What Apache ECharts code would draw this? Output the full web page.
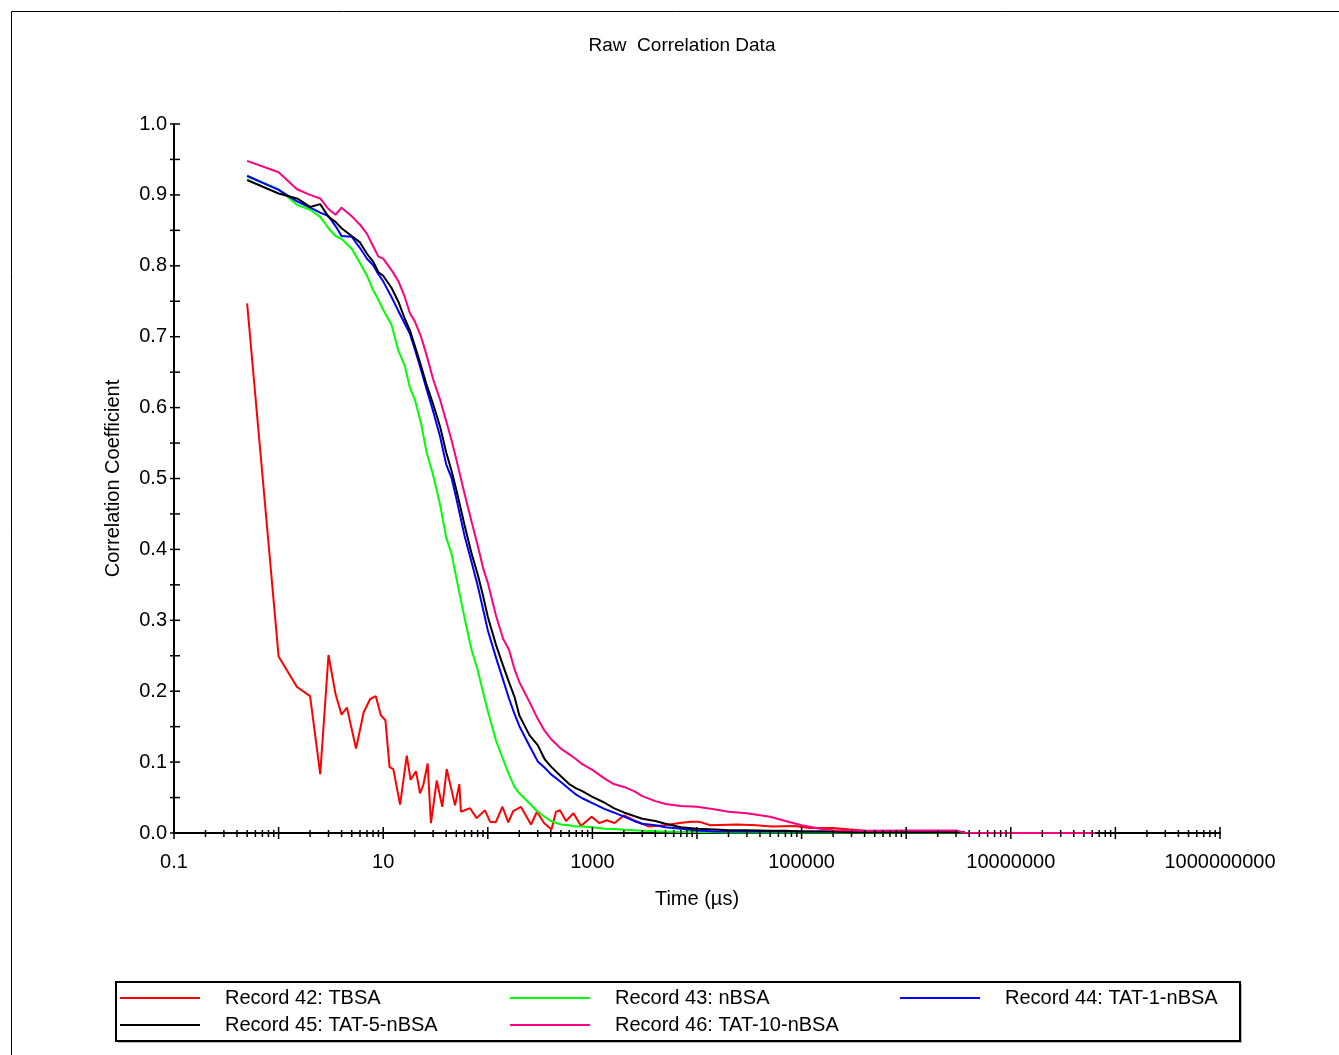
<!DOCTYPE html>
<html>
<head>
<meta charset="utf-8">
<title>Raw Correlation Data</title>
<script src="https://cdn.jsdelivr.net/npm/echarts@6/dist/echarts.min.js"></script>
<style>
html,body{margin:0;padding:0;background:#fff;}
#chart{width:1339px;height:1055px;}
</style>
</head>
<body>
<div id="chart"></div>
<script>
// Delay times (µs) shared by records 43-46
const timeUs = [0.5,1,1.5,2,2.5,3,3.5,4,5,6,
  7,8,9,10,12,14,16,18,20,23,
  26,30,35,40,45,50,60,70,80,90,
  100,120,140,160,180,200,250,300,350,400,
  500,600,700,800,1000,1300,1600,2000,2500,3000,
  4000,5000,7000,10000,15000,20000,30000,50000,70000,100000,
  150000,200000,300000,500000,1000000,2000000,3000000,3600000];

// Record 42: TBSA (own delay times)
const tbsaTime = [0.5,1.0,1.5,2.0,2.5,3.0,3.5,4.0,4.5,5.5,
  6.5,7.5,8.5,9.5,10.5,11.5,12.5,14.5,16.8,18.3,
  20.6,22.5,24.2,26.6,28.6,32.5,36.7,40.5,48.6,53.4,
  55.4,67.6,78.3,94,105,119,138,157,175,207,
  259,295,345,406,449,490,560,660,778,982,
  1160,1375,1630,2010,2480,3480,4870,6820,8790,10400,
  13400,24100,36800,51500,85300,119000,198000,358000,460000,3650000];
const tbsaValues = [0.747,0.249,0.206,0.193,0.083,0.251,0.196,0.167,0.177,0.119,
  0.170,0.189,0.193,0.166,0.159,0.093,0.090,0.040,0.109,0.075,
  0.087,0.056,0.068,0.098,0.014,0.074,0.037,0.090,0.039,0.069,
  0.030,0.035,0.021,0.032,0.016,0.015,0.037,0.015,0.031,0.037,
  0.012,0.030,0.014,0.005,0.030,0.032,0.017,0.028,0.010,0.023,
  0.014,0.018,0.014,0.025,0.018,0.009,0.011,0.014,0.016,0.016,
  0.011,0.012,0.011,0.009,0.010,0.007,0.007,0.004,0.002,0.001];

// Record 43: nBSA
const nbsaValues = [0.926,0.908,0.886,0.879,0.869,0.853,0.842,0.838,0.824,0.804,
  0.786,0.766,0.752,0.738,0.717,0.680,0.660,0.628,0.612,0.578,
  0.537,0.505,0.463,0.417,0.394,0.360,0.303,0.258,0.230,0.199,
  0.172,0.130,0.104,0.082,0.065,0.056,0.042,0.030,0.023,0.017,
  0.012,0.011,0.009,0.009,0.008,0.006,0.0055,0.0045,0.004,0.003,
  0.0025,0.002,0.0014,0.0013,0.001,0.0007,0.0007,0.0007,0.0007,0.0007,
  0.0007,0.0007,0.0007,0.0007,0.0007,0.0007,0.0007,0.0007];

// Record 44: TAT-1-nBSA
const tat1Values = [0.927,0.907,0.891,0.882,0.875,0.870,0.856,0.842,0.841,0.825,
  0.810,0.801,0.788,0.778,0.756,0.736,0.719,0.704,0.683,0.653,
  0.626,0.595,0.559,0.520,0.501,0.472,0.419,0.382,0.349,0.316,
  0.286,0.247,0.216,0.189,0.168,0.151,0.123,0.101,0.092,0.083,
  0.072,0.062,0.054,0.049,0.042,0.034,0.029,0.023,0.017,0.013,
  0.011,0.008,0.006,0.0035,0.002,0.002,0.002,0.002,0.002,0.002,
  0.002,0.002,0.002,0.002,0.002,0.002,0.002,0.001];

// Record 45: TAT-5-nBSA
const tat5Values = [0.921,0.902,0.895,0.883,0.887,0.869,0.862,0.853,0.842,0.833,
  0.817,0.806,0.791,0.786,0.769,0.749,0.726,0.709,0.688,0.659,
  0.632,0.605,0.573,0.537,0.511,0.484,0.434,0.394,0.365,0.335,
  0.305,0.265,0.236,0.212,0.192,0.166,0.138,0.124,0.104,0.094,
  0.080,0.069,0.063,0.059,0.051,0.043,0.035,0.029,0.024,0.020,
  0.017,0.013,0.008,0.006,0.005,0.004,0.004,0.003,0.003,0.002,
  0.002,0.002,0.001,0.001,0.001,0.001,0.001,0.001];

// Record 46: TAT-10-nBSA
const tat10Values = [0.948,0.932,0.908,0.900,0.895,0.880,0.872,0.882,0.870,0.858,
  0.845,0.828,0.813,0.810,0.794,0.778,0.757,0.733,0.722,0.700,
  0.674,0.640,0.611,0.581,0.554,0.527,0.478,0.439,0.406,0.374,
  0.353,0.306,0.274,0.258,0.231,0.213,0.185,0.161,0.144,0.133,
  0.119,0.111,0.104,0.097,0.089,0.077,0.069,0.065,0.059,0.052,
  0.045,0.041,0.038,0.037,0.033,0.030,0.028,0.023,0.017,0.011,
  0.006,0.004,0.0035,0.003,0.0035,0.0035,0.0035,0.0005];
const tat10TailTime = [10000000, 64000000];
const tat10TailValues = [0, 0];

const seriesNames = ['Record 42: TBSA','Record 43: nBSA','Record 44: TAT-1-nBSA',
  'Record 45: TAT-5-nBSA','Record 46: TAT-10-nBSA'];
const seriesColors = ['#ff0000','#00ff00','#0000ff','#000000','#ff0080'];

const xTickExponents = [-1,1,3,5,7,9];
const xTickLabels = ['0.1','10','1000','100000','10000000','1000000000'];

const FONT = '"Liberation Sans", Arial, sans-serif';

function pairs(ts, vs) { return ts.map((t, i) => [Math.log10(t), vs[i]]); }

const seriesData = [
  pairs(tbsaTime, tbsaValues),
  pairs(timeUs, nbsaValues),
  pairs(timeUs, tat1Values),
  pairs(timeUs, tat5Values),
  pairs(timeUs, tat10Values).concat(pairs(tat10TailTime, tat10TailValues))
];

// tick positions (log decades with 2..9 subdivisions)
const xTicks = [];
for (let d = -1; d <= 9; d++) {
  xTicks.push([d, 1]);
  if (d < 9) for (let k = 2; k <= 9; k++) xTicks.push([d + Math.log10(k), 0]);
}
const yTicks = [];
for (let i = 0; i <= 20; i++) yTicks.push([-1, i * 0.05]);

const chart = echarts.init(document.getElementById('chart'), null, {renderer: 'canvas'});

const lineSeries = seriesNames.map((name, i) => ({
  name: name,
  type: 'line',
  data: seriesData[i],
  color: seriesColors[i],
  showSymbol: false,
  symbol: 'none',
  lineStyle: {width: 2, color: seriesColors[i]},
  emphasis: {disabled: true},
  z: 3 + i
}));

const legendCommon = {
  orient: 'vertical',
  top: 988,
  padding: 0,
  itemWidth: 80,
  itemHeight: 2,
  itemGap: 7,
  icon: 'rect',
  selectedMode: false,
  textStyle: {fontSize: 20, lineHeight: 20, color: '#000', fontFamily: FONT, padding: [0, 0, 0, 20]},
  z: 10
};

const option = {
  animation: false,
  backgroundColor: '#fff',
  title: {
    text: 'Raw  Correlation Data',
    left: 682,
    top: 36,
    textAlign: 'center',
    padding: 0,
    textStyle: {fontSize: 19, fontWeight: 'normal', color: '#000', fontFamily: FONT, lineHeight: 20}
  },
  grid: {left: 174, top: 124, right: 119, bottom: 222, containLabel: false},
  legend: [
    Object.assign({}, legendCommon, {left: 120, data: [seriesNames[0], seriesNames[3]]}),
    Object.assign({}, legendCommon, {left: 510, data: [seriesNames[1], seriesNames[4]]}),
    Object.assign({}, legendCommon, {left: 900, data: [seriesNames[2]]})
  ],
  xAxis: {
    type: 'value',
    min: -1, max: 9, interval: 1,
    name: 'Time (µs)',
    nameLocation: 'middle',
    nameGap: 56,
    nameTextStyle: {fontSize: 20, color: '#000', fontFamily: FONT, lineHeight: 20},
    axisLine: {show: true, onZero: false, lineStyle: {color: '#000', width: 2}},
    axisTick: {show: false},
    splitLine: {show: false},
    axisLabel: {
      margin: 19,
      fontSize: 20, lineHeight: 20, color: '#000', fontFamily: FONT,
      formatter: function (v) {
        const idx = xTickExponents.indexOf(Math.round(v));
        return idx >= 0 ? xTickLabels[idx] : '';
      }
    }
  },
  yAxis: {
    type: 'value',
    min: 0, max: 1, interval: 0.1,
    name: 'Correlation Coefficient',
    nameLocation: 'middle',
    nameRotate: 90,
    nameGap: 51,
    nameTextStyle: {fontSize: 20, color: '#000', fontFamily: FONT, lineHeight: 20},
    axisLine: {show: true, onZero: false, lineStyle: {color: '#000', width: 2}},
    axisTick: {show: false},
    splitLine: {show: false},
    axisLabel: {
      margin: 7,
      fontSize: 20, lineHeight: 20, color: '#000', fontFamily: FONT,
      formatter: function (v) { return v.toFixed(1); }
    }
  },
  graphic: [
    {type: 'rect', z: -10, silent: true, shape: {x: 11.5, y: 11.5, width: 1400, height: 1100},
      style: {fill: 'none', stroke: '#000', lineWidth: 1}},
    {type: 'rect', z: 0, silent: true, shape: {x: 118, y: 984, width: 1124, height: 59},
      style: {fill: '#b8b8b8', stroke: null}},
    {type: 'rect', z: 1, silent: true, shape: {x: 116, y: 982, width: 1124, height: 59},
      style: {fill: '#fff', stroke: '#000', lineWidth: 2}}
  ],
  series: lineSeries.concat([
    {
      type: 'custom', name: 'xticks', silent: true, clip: false, z: 10,
      data: xTicks,
      renderItem: function (params, api) {
        const p = api.coord([api.value(0), 0]);
        const major = api.value(1) === 1;
        const up = major ? 6 : 3, down = major ? 6 : 4;
        return {type: 'line', shape: {x1: p[0], y1: p[1] - up, x2: p[0], y2: p[1] + down},
          style: {stroke: '#000', lineWidth: 1.5}};
      }
    },
    {
      type: 'custom', name: 'yticks', silent: true, clip: false, z: 10,
      data: yTicks,
      renderItem: function (params, api) {
        const p = api.coord([api.value(0), api.value(1)]);
        return {type: 'line', shape: {x1: p[0] - 4, y1: p[1], x2: p[0] + 6, y2: p[1]},
          style: {stroke: '#000', lineWidth: 1.5}};
      }
    }
  ])
};

chart.setOption(option);
</script>
</body>
</html>
